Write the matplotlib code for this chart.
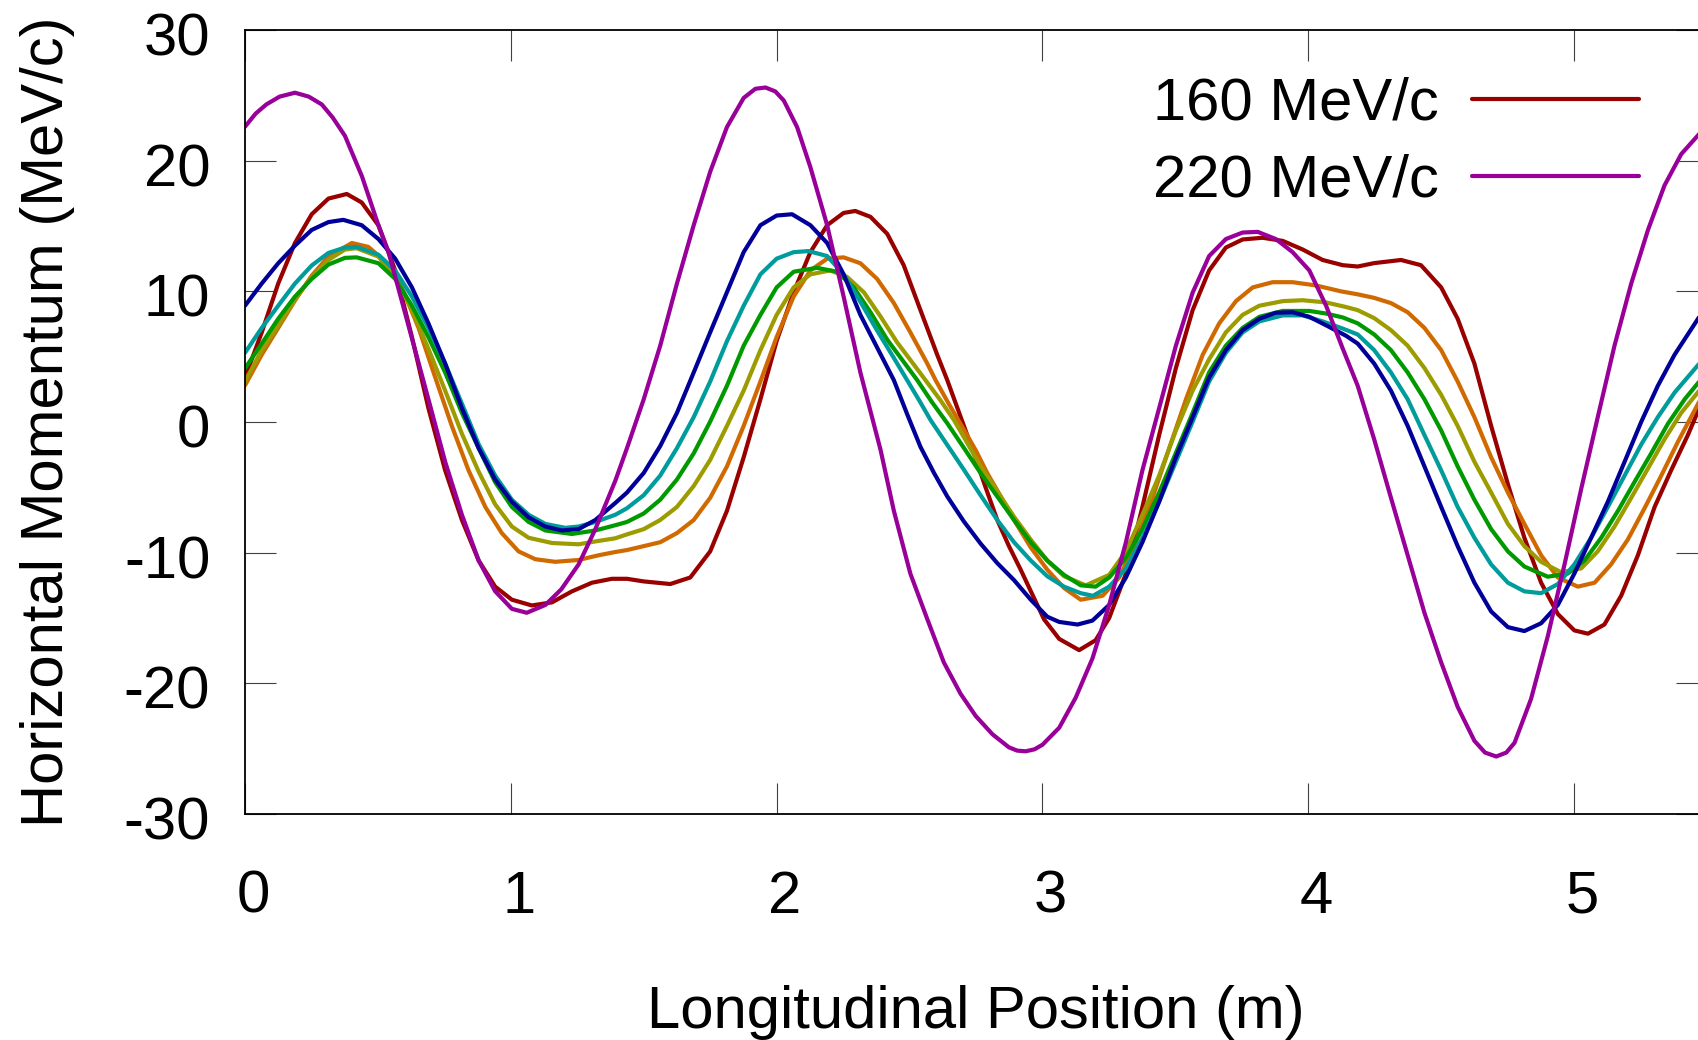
import matplotlib
matplotlib.use('Agg')
import matplotlib.pyplot as plt
from matplotlib.transforms import ScaledTranslation

plt.rcParams['font.family'] = ['Liberation Sans', 'DejaVu Sans']
plt.rcParams['axes.unicode_minus'] = False

# longitudinal position (m) and horizontal momentum (MeV/c)

x_160 = [0.0, 0.063, 0.125, 0.188, 0.251, 0.314, 0.383, 0.439, 0.502, 0.565, 0.628, 0.69, 0.753, 0.816, 0.879,
         0.941, 1.004, 1.079, 1.155, 1.23, 1.305, 1.38, 1.437, 1.5, 1.6, 1.675, 1.75, 1.813, 1.876, 1.939, 2.0,
         2.064, 2.127, 2.19, 2.252, 2.296, 2.353, 2.416, 2.478, 2.541, 2.604, 2.642, 2.692, 2.742, 2.786, 2.83,
         2.874, 2.918, 2.962, 3.006, 3.063, 3.138, 3.2, 3.251, 3.314, 3.376, 3.439, 3.502, 3.565, 3.627, 3.69,
         3.753, 3.828, 3.904, 3.979, 4.054, 4.13, 4.186, 4.248, 4.349, 4.424, 4.5, 4.562, 4.625, 4.688, 4.751,
         4.813, 4.876, 4.939, 5.001, 5.052, 5.114, 5.177, 5.24, 5.303, 5.365, 5.428, 5.471, 5.5]
p_160 = [3.4, 6.86, 10.6, 13.7, 15.9, 17.1, 17.45, 16.8, 15.05, 11.6, 6.5, 1.06, -3.7, -7.5, -10.6,
         -12.6, -13.6, -14.04, -13.8, -12.96, -12.3, -12.0, -12.0, -12.2, -12.4, -11.9, -9.9, -6.8, -2.7, 1.74, 6.2,
         9.93, 13.0, 15.06, 16.0, 16.15, 15.7, 14.4, 12.0, 8.56, 5.15, 3.2, 0.4, -2.4, -5.0, -7.5,
         -9.5, -11.3, -13.2, -15.1, -16.6, -17.46, -16.7, -15.0, -11.6, -6.5, -1.0, 4.13, 8.56, 11.6, 13.35,
         13.97, 14.1, 13.86, 13.2, 12.4, 12.0, 11.9, 12.16, 12.4, 12.0, 10.3, 7.9, 4.47, -0.3, -4.76,
         -8.86, -12.3, -14.7, -15.95, -16.2, -15.5, -13.3, -10.2, -6.5, -3.7, -1.0, 1.06, 2.4]

x_170 = [0.0, 0.063, 0.125, 0.188, 0.251, 0.314, 0.402, 0.464, 0.527, 0.59, 0.653, 0.715, 0.778, 0.841, 0.904,
         0.966, 1.029, 1.092, 1.167, 1.255, 1.33, 1.393, 1.437, 1.5, 1.562, 1.625, 1.688, 1.75, 1.813, 1.876,
         1.939, 2.0, 2.064, 2.127, 2.19, 2.252, 2.315, 2.378, 2.441, 2.503, 2.566, 2.598, 2.65, 2.705, 2.75,
         2.792, 2.843, 2.893, 2.956, 3.018, 3.081, 3.144, 3.226, 3.289, 3.351, 3.414, 3.477, 3.54, 3.603, 3.665,
         3.728, 3.791, 3.866, 3.941, 4.029, 4.123, 4.186, 4.248, 4.311, 4.374, 4.437, 4.5, 4.562, 4.625, 4.688,
         4.751, 4.813, 4.876, 4.939, 5.014, 5.077, 5.139, 5.202, 5.265, 5.328, 5.391, 5.471, 5.5]
p_170 = [2.8, 5.15, 7.2, 9.3, 11.2, 12.66, 13.7, 13.4, 12.3, 10.3, 7.2, 3.45, -0.3, -3.7, -6.5,
         -8.5, -9.9, -10.5, -10.7, -10.56, -10.2, -9.95, -9.8, -9.5, -9.2, -8.5, -7.5, -5.8, -3.4, -0.3,
         3.1, 6.5, 9.6, 11.6, 12.5, 12.6, 12.15, 10.95, 9.1, 6.86, 4.5, 3.2, 1.3, -0.6, -2.2,
         -3.9, -5.7, -7.5, -9.6, -11.3, -12.7, -13.6, -13.3, -11.9, -9.2, -5.8, -2.0, 1.74, 5.15, 7.55,
         9.25, 10.3, 10.7, 10.7, 10.45, 10.0, 9.77, 9.5, 9.1, 8.4, 7.2, 5.5, 3.1, 0.37, -2.7,
         -5.4, -7.8, -10.2, -11.9, -12.6, -12.3, -10.9, -9.0, -6.6, -4.1, -1.5, 1.57, 2.6]

x_180 = [0.0, 0.063, 0.125, 0.188, 0.251, 0.314, 0.376, 0.42, 0.502, 0.565, 0.628, 0.69, 0.753, 0.816, 0.879,
         0.941, 1.004, 1.067, 1.155, 1.255, 1.33, 1.393, 1.437, 1.5, 1.562, 1.625, 1.688, 1.75, 1.813, 1.876,
         1.939, 2.0, 2.064, 2.127, 2.202, 2.265, 2.328, 2.39, 2.453, 2.516, 2.56, 2.615, 2.667, 2.717, 2.767,
         2.83, 2.893, 2.956, 3.018, 3.081, 3.163, 3.251, 3.314, 3.376, 3.439, 3.502, 3.565, 3.627, 3.69, 3.753,
         3.816, 3.904, 3.979, 4.067, 4.142, 4.186, 4.248, 4.311, 4.374, 4.437, 4.5, 4.562, 4.625, 4.688, 4.751,
         4.813, 4.876, 4.951, 5.027, 5.089, 5.152, 5.215, 5.278, 5.34, 5.403, 5.471, 5.5]
p_180 = [3.1, 5.5, 7.4, 9.4, 11.1, 12.4, 13.2, 13.3, 12.66, 11.1, 8.6, 5.6, 2.4, -0.9, -3.8,
         -6.3, -8.0, -8.86, -9.26, -9.36, -9.1, -8.9, -8.6, -8.2, -7.5, -6.5, -4.9, -2.9, -0.3, 2.4,
         5.5, 8.2, 10.3, 11.3, 11.6, 11.1, 9.93, 8.1, 6.1, 4.4, 3.2, 1.7, 0.15, -1.6, -3.4,
         -5.3, -7.25, -9.0, -10.6, -11.8, -12.5, -11.7, -9.9, -7.1, -4.1, -0.65, 2.4, 4.8, 6.86, 8.2,
         8.9, 9.25, 9.32, 9.15, 8.8, 8.56, 7.95, 7.03, 5.84, 4.13, 2.08, -0.3, -3.04, -5.4, -7.8,
         -9.5, -10.7, -11.5, -11.2, -9.9, -8.0, -5.8, -3.55, -1.33, 0.7, 2.4, 3.1]

x_190 = [0.0, 0.063, 0.125, 0.188, 0.251, 0.314, 0.376, 0.42, 0.502, 0.565, 0.628, 0.69, 0.753, 0.816, 0.879,
         0.941, 1.004, 1.067, 1.13, 1.23, 1.318, 1.393, 1.437, 1.5, 1.562, 1.625, 1.688, 1.75, 1.813, 1.876,
         1.939, 2.0, 2.064, 2.152, 2.227, 2.29, 2.353, 2.416, 2.478, 2.529, 2.585, 2.642, 2.705, 2.767, 2.83,
         2.893, 2.956, 3.018, 3.081, 3.144, 3.2, 3.251, 3.314, 3.376, 3.439, 3.502, 3.565, 3.627, 3.69, 3.753,
         3.816, 3.904, 4.004, 4.067, 4.13, 4.186, 4.248, 4.311, 4.374, 4.437, 4.5, 4.562, 4.625, 4.688, 4.751,
         4.813, 4.901, 4.976, 5.039, 5.102, 5.165, 5.227, 5.29, 5.353, 5.416, 5.471, 5.5]
p_190 = [4.1, 6.0, 7.9, 9.6, 10.95, 12.05, 12.56, 12.6, 12.15, 10.95, 8.9, 6.5, 3.79, 0.7, -2.0,
         -4.6, -6.5, -7.65, -8.3, -8.57, -8.3, -7.9, -7.65, -7.0, -5.95, -4.4, -2.4, 0.03, 2.77, 5.84,
         8.2, 10.3, 11.5, 11.8, 11.5, 10.3, 8.4, 6.3, 4.6, 3.2, 1.5, -0.1, -2.0, -3.9, -5.7,
         -7.5, -9.2, -10.6, -11.7, -12.5, -12.6, -11.9, -10.4, -8.2, -5.4, -2.36, 0.7, 3.8, 5.84, 7.2,
         8.05, 8.5, 8.5, 8.3, 8.0, 7.55, 6.7, 5.5, 3.79, 1.74, -0.65, -3.4, -5.95, -8.2, -9.9,
         -11.06, -11.84, -11.6, -10.6, -8.86, -6.8, -4.6, -2.4, -0.13, 1.74, 3.1, 3.8]

x_200 = [0.0, 0.063, 0.125, 0.188, 0.251, 0.314, 0.376, 0.42, 0.502, 0.565, 0.628, 0.69, 0.753, 0.816, 0.879,
         0.941, 1.004, 1.067, 1.13, 1.205, 1.255, 1.318, 1.393, 1.437, 1.5, 1.562, 1.625, 1.688, 1.75, 1.813,
         1.876, 1.939, 2.0, 2.064, 2.12, 2.19, 2.252, 2.315, 2.378, 2.441, 2.491, 2.535, 2.579, 2.64, 2.705,
         2.767, 2.83, 2.893, 2.956, 3.018, 3.081, 3.144, 3.19, 3.251, 3.314, 3.376, 3.439, 3.502, 3.565, 3.627,
         3.69, 3.753, 3.816, 3.904, 3.979, 4.054, 4.123, 4.186, 4.248, 4.311, 4.374, 4.437, 4.5, 4.562, 4.625,
         4.688, 4.751, 4.813, 4.876, 4.939, 5.001, 5.064, 5.127, 5.19, 5.253, 5.315, 5.378, 5.471, 5.5]
p_200 = [5.3, 7.2, 8.9, 10.6, 11.98, 12.94, 13.35, 13.4, 12.8, 11.6, 9.6, 7.2, 4.47, 1.4, -1.7,
         -4.1, -5.95, -7.1, -7.8, -8.1, -8.0, -7.65, -7.1, -6.6, -5.6, -4.1, -2.0, 0.37, 3.1, 6.18,
         8.9, 11.3, 12.5, 13.0, 13.08, 12.7, 11.3, 9.2, 7.0, 4.9, 3.2, 1.7, 0.15, -1.7, -3.67,
         -5.6, -7.5, -9.2, -10.6, -11.8, -12.6, -13.1, -13.3, -12.6, -11.2, -8.86, -6.1, -3.04, 0.03, 3.1,
         5.3, 6.86, 7.7, 8.16, 8.16, 7.7, 7.2, 6.7, 5.5, 3.79, 1.74, -1.0, -3.7, -6.5, -8.86,
         -10.9, -12.3, -12.96, -13.1, -12.4, -10.9, -8.86, -6.5, -4.1, -1.7, 0.37, 2.25, 4.47, 5.2]

x_210 = [0.0, 0.063, 0.125, 0.188, 0.251, 0.314, 0.37, 0.439, 0.502, 0.565, 0.628, 0.69, 0.753, 0.816, 0.879,
         0.941, 1.004, 1.067, 1.13, 1.192, 1.255, 1.318, 1.393, 1.437, 1.5, 1.562, 1.625, 1.688, 1.75, 1.813,
         1.876, 1.939, 2.0, 2.058, 2.127, 2.19, 2.252, 2.315, 2.378, 2.441, 2.491, 2.541, 2.592, 2.642, 2.704,
         2.767, 2.83, 2.893, 2.956, 3.018, 3.063, 3.132, 3.188, 3.251, 3.314, 3.376, 3.439, 3.502, 3.565, 3.627,
         3.69, 3.753, 3.816, 3.878, 3.941, 4.004, 4.067, 4.142, 4.186, 4.248, 4.311, 4.374, 4.437, 4.5, 4.562,
         4.625, 4.688, 4.751, 4.813, 4.876, 4.939, 5.001, 5.064, 5.127, 5.19, 5.253, 5.315, 5.378, 5.471, 5.5]
p_210 = [8.9, 10.6, 12.15, 13.5, 14.7, 15.3, 15.47, 15.06, 14.0, 12.5, 10.3, 7.55, 4.47, 1.06, -2.0,
         -4.4, -6.1, -7.3, -8.0, -8.3, -8.2, -7.5, -6.2, -5.4, -3.9, -1.84, 0.7, 3.79, 6.86, 9.93,
         13.0, 15.06, 15.8, 15.9, 15.06, 13.7, 11.3, 8.2, 5.7, 3.2, 0.6, -1.9, -3.9, -5.7, -7.6,
         -9.3, -10.8, -12.1, -13.6, -14.9, -15.3, -15.5, -15.2, -14.0, -11.9, -9.2, -6.1, -2.7, 0.37, 3.4,
         5.5, 7.03, 7.9, 8.36, 8.4, 8.05, 7.4, 6.6, 6.0, 4.47, 2.4, -0.3, -3.4, -6.5, -9.5,
         -12.3, -14.5, -15.7, -16.0, -15.4, -14.0, -11.6, -8.86, -6.1, -3.04, 0.03, 2.77, 5.15, 8.05, 9.0]

x_220 = [0.0, 0.04, 0.08, 0.13, 0.188, 0.24, 0.289, 0.33, 0.376, 0.44, 0.502, 0.54, 0.59, 0.64, 0.69, 0.753,
         0.816, 0.879, 0.941, 1.004, 1.06, 1.13, 1.19, 1.255, 1.318, 1.393, 1.437, 1.5, 1.562, 1.625, 1.688,
         1.75, 1.813, 1.876, 1.92, 1.958, 1.995, 2.027, 2.077, 2.127, 2.19, 2.252, 2.315, 2.391, 2.441, 2.503,
         2.567, 2.629, 2.692, 2.749, 2.812, 2.874, 2.905, 2.937, 2.97, 3.0, 3.063, 3.125, 3.188, 3.251, 3.314,
         3.376, 3.439, 3.502, 3.565, 3.627, 3.69, 3.753, 3.81, 3.878, 3.941, 4.004, 4.067, 4.13, 4.186, 4.248,
         4.311, 4.374, 4.437, 4.5, 4.562, 4.625, 4.665, 4.707, 4.745, 4.776, 4.838, 4.901, 4.964, 5.027, 5.089,
         5.152, 5.215, 5.278, 5.34, 5.403, 5.471, 5.5]
p_220 = [22.6, 23.6, 24.3, 24.9, 25.2, 24.9, 24.3, 23.3, 21.9, 18.8, 15.05, 13.0, 9.25, 5.5, 1.74, -3.04,
         -7.1, -10.6, -12.95, -14.3, -14.6, -14.0, -12.8, -10.9, -8.2, -4.5, -2.0, 1.74, 5.84, 10.6, 15.06,
         19.15, 22.57, 24.8, 25.5, 25.6, 25.3, 24.6, 22.57, 19.5, 15.06, 9.6, 3.79, -2.14, -6.8, -11.6,
         -15.1, -18.4, -20.8, -22.5, -23.9, -24.9, -25.15, -25.2, -25.05, -24.7, -23.4, -21.1, -18.1, -14.0, -9.2,
         -3.7, 1.06, 5.84, 9.9, 12.7, 14.0, 14.5, 14.55, 14.0, 13.0, 11.6, 8.9, 5.6, 2.77, -1.33,
         -5.8, -10.2, -14.6, -18.4, -21.8, -24.4, -25.3, -25.6, -25.3, -24.55, -21.2, -16.4, -10.9, -5.1, 0.37,
         5.84, 10.6, 14.7, 18.1, 20.5, 22.05, 22.6]

series = [
    (x_160, p_160, '#990000', '160 MeV/c'),
    (x_170, p_170, '#d06a00', None),
    (x_180, p_180, '#9c9c00', None),
    (x_190, p_190, '#009900', None),
    (x_200, p_200, '#009c9c', None),
    (x_210, p_210, '#000099', None),
    (x_220, p_220, '#990099', '220 MeV/c'),
]

fig = plt.figure(figsize=(16.98, 10.40), dpi=100)
# right border of the frame sits just outside the picture, like the original
ax = fig.add_axes([245 / 1698, 1 - 814 / 1040, 1462 / 1698, 784 / 1040])

handles = []
for xs, ps, col, lab in series:
    line, = ax.plot(xs, ps, color=col, lw=3.0, solid_joinstyle='round', solid_capstyle='round')
    if lab:
        handles.append((line, lab))

ax.set_xlim(0, 5.5)
ax.set_ylim(-30, 30)
ax.set_xticks(range(6))
ax.set_yticks(range(-30, 31, 10))

ax.tick_params(direction='in', length=22, width=0.8, color='#404040',
               top=True, right=True, labelsize=43)
ax.tick_params(axis='x', pad=40)
ax.tick_params(axis='y', pad=25)
for s in ax.spines.values():
    s.set_linewidth(1.3)

# gnuplot puts the x labels a little to the right of the tick
for t in ax.get_xticklabels():
    t.set_transform(t.get_transform() + ScaledTranslation(0.08, 0, fig.dpi_scale_trans))
for t in ax.get_yticklabels():
    t.set_transform(t.get_transform() + ScaledTranslation(0, -0.04, fig.dpi_scale_trans))

fig.text(976 / 1698, 1 - 1028 / 1040, 'Longitudinal Position (m)', fontsize=43,
         ha='center', va='baseline')
fig.text(75 / 1698, 1 - 422 / 1040, 'Horizontal Momentum (MeV/c)', fontsize=43,
         rotation=90, ha='right', va='center')

ax.legend([h[0] for h in handles], [h[1] for h in handles],
          loc='upper right', bbox_to_anchor=(1639 / 1698, 1 - 77 / 1040),
          bbox_transform=fig.transFigure, frameon=False, markerfirst=False,
          handlelength=2.8, handletextpad=0.55, labelspacing=0.36,
          borderpad=0, borderaxespad=0, fontsize=43)

fig.savefig('out.png', dpi=100)
